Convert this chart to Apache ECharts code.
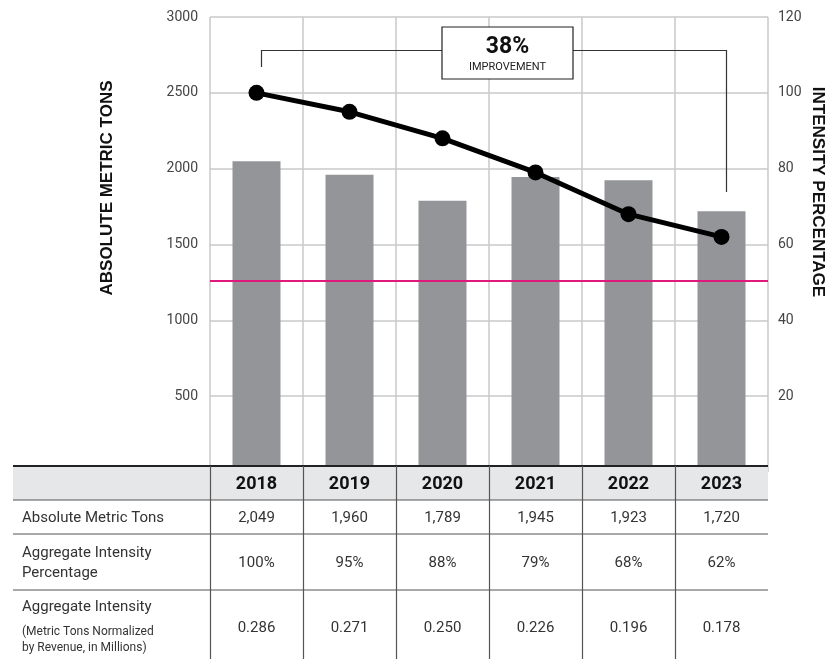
<!DOCTYPE html>
<html>
<head>
<meta charset="utf-8">
<script src="https://cdn.jsdelivr.net/npm/echarts@6/dist/echarts.min.js"></script>
<style>
html,body{margin:0;padding:0;background:#fff;}
#c{width:829px;height:659px;}
</style>
</head>
<body>
<div id="c"></div>
<script>
const years = ['2018', '2019', '2020', '2021', '2022', '2023'];
const absoluteTons = [2049, 1960, 1789, 1945, 1923, 1720];
const intensityPct = [100, 95, 88, 79, 68, 62];
const aggIntensity = ['0.286', '0.271', '0.250', '0.226', '0.196', '0.178'];
const targetLine = 1260;
const rowLabels = ['Absolute Metric Tons', 'Aggregate Intensity Percentage', 'Aggregate Intensity'];
const improvementText = '38%';

const chart = echarts.init(document.getElementById('c'), null, {renderer: 'canvas'});

const G = {left: 210, right: 768, top: 17, zero: 472};
const colW = (G.right - G.left) / years.length;
const T = {left: 13, top: 466, hdrBot: 500, r1: 534, r2: 590, bottom: 659};
const font = 'Roboto, "Noto Sans", sans-serif';

const fmtNum = v => v.toLocaleString('en-US');

const graphics = [];
// table header background
graphics.push({type: 'rect', z: 100, shape: {x: T.left, y: T.top, width: G.right - T.left, height: T.hdrBot - T.top}, style: {fill: '#e6e7e8'}});
// white background below header
graphics.push({type: 'rect', z: 99, shape: {x: 0, y: T.hdrBot, width: 829, height: T.bottom - T.hdrBot}, style: {fill: '#fff'}});
// horizontal lines
graphics.push({type: 'line', z: 101, shape: {x1: T.left, y1: T.top, x2: G.right, y2: T.top}, style: {stroke: '#222', lineWidth: 2}});
[T.hdrBot, T.r1, T.r2].forEach(y => graphics.push({type: 'line', z: 101, shape: {x1: T.left, y1: y, x2: G.right, y2: y}, style: {stroke: '#555', lineWidth: 1.2}}));
// vertical lines
for (let i = 0; i < years.length; i++) {
  const x = Math.round(G.left + i * colW) + 0.5;
  graphics.push({type: 'line', z: 101, shape: {x1: x, y1: T.top, x2: x, y2: T.bottom}, style: {stroke: '#555', lineWidth: 1.2}});
}
// header years & values
years.forEach((yr, i) => {
  const cx = G.left + (i + 0.5) * colW;
  graphics.push({type: 'text', z: 102, style: {x: cx, y: (T.top + T.hdrBot) / 2 + 1, text: yr, textAlign: 'center', textVerticalAlign: 'middle', font: 'bold 18px ' + font, fill: '#111'}});
  graphics.push({type: 'text', z: 102, style: {x: cx, y: (T.hdrBot + T.r1) / 2 + 1, text: fmtNum(absoluteTons[i]), textAlign: 'center', textVerticalAlign: 'middle', font: '15px ' + font, fill: '#333'}});
  graphics.push({type: 'text', z: 102, style: {x: cx, y: (T.r1 + T.r2) / 2 + 1, text: intensityPct[i] + '%', textAlign: 'center', textVerticalAlign: 'middle', font: '15px ' + font, fill: '#333'}});
  graphics.push({type: 'text', z: 102, style: {x: cx, y: 628, text: aggIntensity[i], textAlign: 'center', textVerticalAlign: 'middle', font: '15px ' + font, fill: '#333'}});
});
// row labels
graphics.push({type: 'text', z: 102, style: {x: 22, y: 518, text: rowLabels[0], textAlign: 'left', textVerticalAlign: 'middle', font: '15px ' + font, fill: '#333'}});
graphics.push({type: 'text', z: 102, style: {x: 22, y: 553, text: 'Aggregate Intensity', textAlign: 'left', textVerticalAlign: 'middle', font: '15px ' + font, fill: '#333'}});
graphics.push({type: 'text', z: 102, style: {x: 22, y: 573, text: 'Percentage', textAlign: 'left', textVerticalAlign: 'middle', font: '15px ' + font, fill: '#333'}});
graphics.push({type: 'text', z: 102, style: {x: 22, y: 607, text: rowLabels[2], textAlign: 'left', textVerticalAlign: 'middle', font: '15px ' + font, fill: '#333'}});
graphics.push({type: 'text', z: 102, style: {x: 22, y: 632, text: '(Metric Tons Normalized', textAlign: 'left', textVerticalAlign: 'middle', font: '12px ' + font, fill: '#333'}});
graphics.push({type: 'text', z: 102, style: {x: 22, y: 648, text: 'by Revenue, in Millions)', textAlign: 'left', textVerticalAlign: 'middle', font: '12px ' + font, fill: '#333'}});

// annotation bracket
graphics.push({type: 'polyline', z: 50, shape: {points: [[261.5, 67], [261.5, 50.5], [442, 50.5]]}, style: {stroke: '#333', lineWidth: 1.2, fill: null}});
graphics.push({type: 'polyline', z: 50, shape: {points: [[573, 50.5], [726.5, 50.5], [726.5, 192]]}, style: {stroke: '#333', lineWidth: 1.2, fill: null}});
graphics.push({type: 'rect', z: 50, shape: {x: 442, y: 27, width: 131, height: 52}, style: {fill: '#fff', stroke: '#222', lineWidth: 1.2}});
graphics.push({type: 'text', z: 51, style: {x: 507.5, y: 47, text: improvementText, textAlign: 'center', textVerticalAlign: 'middle', font: 'bold 23px ' + font, fill: '#111'}});
graphics.push({type: 'text', z: 51, style: {x: 507.5, y: 67, text: 'IMPROVEMENT', textAlign: 'center', textVerticalAlign: 'middle', font: '11px ' + font, fill: '#222'}});

// axis names
graphics.push({type: 'text', z: 51, x: 107, y: 188, rotation: Math.PI / 2, style: {x: 0, y: 0, text: 'ABSOLUTE METRIC TONS', textAlign: 'center', textVerticalAlign: 'middle', font: 'bold 17px "Liberation Sans", Arial, sans-serif', fill: '#111'}});
graphics.push({type: 'text', z: 51, x: 818, y: 192, rotation: -Math.PI / 2, style: {x: 0, y: 0, text: 'INTENSITY PERCENTAGE', textAlign: 'center', textVerticalAlign: 'middle', font: 'bold 17px "Liberation Sans", Arial, sans-serif', fill: '#111'}});

const option = {
  animation: false,
  backgroundColor: '#fff',
  grid: {left: G.left, right: 829 - G.right, top: G.top, bottom: 659 - G.zero},
  xAxis: {
    type: 'category', data: years,
    axisLine: {show: false}, axisTick: {show: false}, axisLabel: {show: false},
    splitLine: {show: true, interval: 0, lineStyle: {color: '#c8c8c8', width: 1.5}}
  },
  yAxis: [
    {type: 'value', min: 0, max: 3000, interval: 500,
     axisLine: {show: false}, axisTick: {show: false},
     axisLabel: {margin: 12, color: '#444', fontSize: 14, fontFamily: font, formatter: v => v === 0 ? '' : String(v)},
     splitLine: {show: true, lineStyle: {color: '#c8c8c8', width: 1.5}}},
    {type: 'value', min: 0, max: 120, interval: 20,
     axisLine: {show: false}, axisTick: {show: false},
     axisLabel: {margin: 10, color: '#444', fontSize: 14, fontFamily: font, formatter: v => v === 0 ? '' : String(v)},
     splitLine: {show: false}}
  ],
  series: [
    {type: 'bar', data: absoluteTons, yAxisIndex: 0, barWidth: 48,
     itemStyle: {color: '#939598'},
     markLine: {silent: true, symbol: 'none', label: {show: false},
       lineStyle: {color: '#e0197d', width: 2, type: 'solid'},
       data: [{yAxis: targetLine}]}},
    {type: 'line', data: intensityPct, yAxisIndex: 1, symbol: 'circle', symbolSize: 16,
     lineStyle: {color: '#000', width: 5}, itemStyle: {color: '#000'}, z: 10}
  ],
  graphic: graphics
};
chart.setOption(option);
</script>
</body>
</html>
